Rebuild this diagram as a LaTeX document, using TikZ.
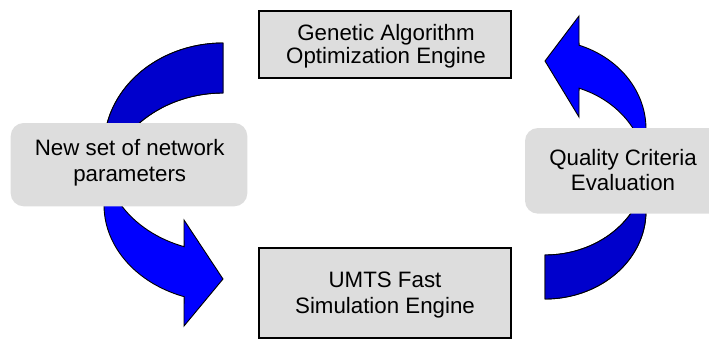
\documentclass[tikz,border=0pt]{standalone}
\usepackage{fontspec}
\setmainfont{Liberation Sans}
\definecolor{boxgray}{RGB}{221,221,221}
\definecolor{brightblue}{RGB}{0,0,255}
\definecolor{darkblue}{RGB}{0,0,204}
\begin{document}
\begin{tikzpicture}[x=1pt,y=-1pt,
  enginebox/.style={rectangle, draw=black, line width=2pt, fill=boxgray, minimum width=252pt, inner sep=0pt},
  infobox/.style={rectangle, fill=boxgray, rounded corners=13pt, inner sep=0pt},
  boxtext/.style={align=center, inner sep=0pt, text=black},
  arrowline/.style={draw=black, line width=0.9pt, line join=miter},
  samples=45]
\path[use as bounding box] (0,0) rectangle (709,340);
\clip (0,0) rectangle (709,340);

% ---- left curved arrow (down to the simulation engine) ----
\filldraw[fill=brightblue, arrowline]
  (223,43) -- plot[domain=270:180] ({223+119*cos(\x)},{147+104*sin(\x)})
  -- (104,205) -- plot[domain=180:109.1] ({223+119*cos(\x)},{205+97*sin(\x)})
  -- (184,326) -- (223,279) -- (184,220)
  -- plot[domain=109.1:167.9] ({223+119*cos(\x)},{155+97*sin(\x)})
  -- plot[domain=192.1:270] ({223+119*cos(\x)},{197+104*sin(\x)})
  -- cycle;
\fill[darkblue]
  (223,43) -- plot[domain=270:180] ({223+119*cos(\x)},{147+104*sin(\x)})
  -- plot[domain=180:270] ({223+119*cos(\x)},{197+104*sin(\x)})
  -- cycle;
\draw[arrowline]
  plot[domain=180:270] ({223+119*cos(\x)},{147+104*sin(\x)})
  -- plot[domain=270:192.1] ({223+119*cos(\x)},{197+104*sin(\x)});

% ---- right curved arrow (up to the optimization engine) ----
\filldraw[fill=brightblue, arrowline]
  (545,299) -- plot[domain=90:0] ({545+101*cos(\x)},{211+88*sin(\x)})
  -- plot[domain=0:-70.3] ({545+101*cos(\x)},{129+89*sin(\x)})
  -- (579,16) -- (545,61) -- (579,117)
  -- plot[domain=-70.3:-1.6] ({545+101*cos(\x)},{172+89*sin(\x)})
  -- plot[domain=1.6:90] ({545+101*cos(\x)},{167+88*sin(\x)})
  -- cycle;
\fill[darkblue]
  (545,299) -- plot[domain=90:0] ({545+101*cos(\x)},{211+88*sin(\x)})
  -- plot[domain=0:90] ({545+101*cos(\x)},{167+88*sin(\x)})
  -- cycle;
\draw[arrowline]
  plot[domain=0:90] ({545+101*cos(\x)},{211+88*sin(\x)})
  -- plot[domain=90:1.6] ({545+101*cos(\x)},{167+88*sin(\x)});

% ---- boxes ----
\node[enginebox, minimum height=67.3pt] (ga) at (385,44.65) {};
\node[boxtext, font=\fontsize{22.3}{22.7}\selectfont] (gatext) at (386,45.9)
  {Genetic Algorithm\\Optimization Engine};

\node[enginebox, minimum height=90pt] (umts) at (385,292.7) {};
\node[boxtext, font=\fontsize{22.3}{25.6}\selectfont] (umtstext) at (385,294.85)
  {UMTS Fast\\Simulation Engine};

\node[infobox, minimum width=236.6pt, minimum height=83.3pt] (nsp) at (129,164.65) {};
\node[boxtext, font=\fontsize{22.3}{26}\selectfont] (nsptext) at (129.7,162.65)
  {New set of network\\parameters};

\node[infobox, minimum width=196pt, minimum height=85.7pt] (qce) at (623,170.85) {};
\node[boxtext, font=\fontsize{22.3}{25.7}\selectfont] (qcetext) at (623,170.05)
  {Quality Criteria\\Evaluation};
\end{tikzpicture}
\end{document}
